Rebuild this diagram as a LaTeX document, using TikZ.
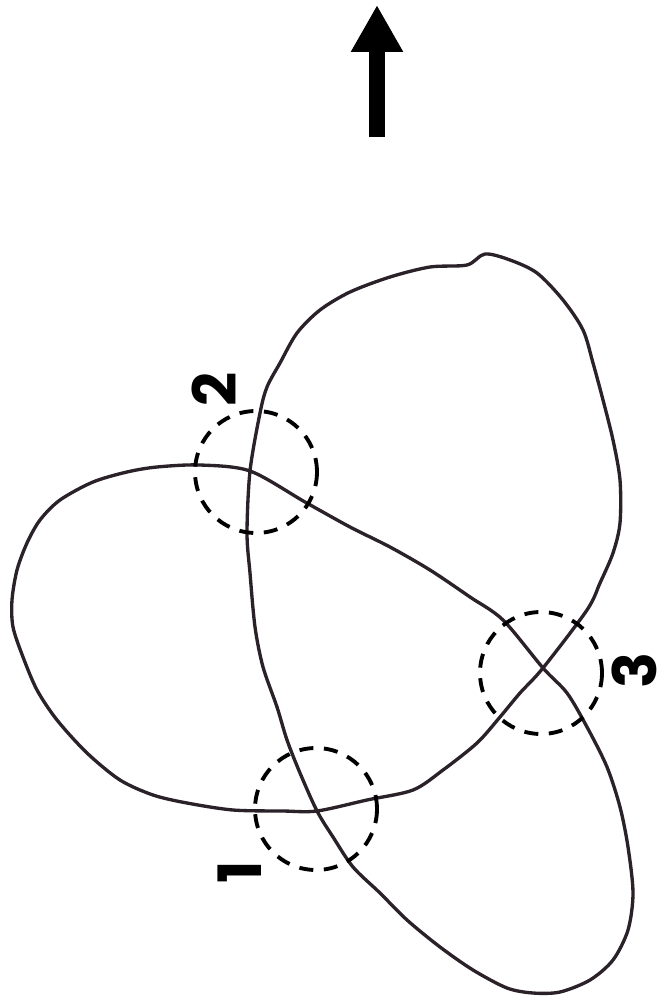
\documentclass[tikz,border=0pt]{standalone}
\usepackage{fontspec}
\usetikzlibrary{arrows.meta}
\newfontfamily\numfont{Poppins}
\definecolor{knotink}{HTML}{2B2129}
\tikzset{
  strand/.style = {draw=knotink, line width=1.9pt, line join=round},
  ring/.style   = {draw, circle, minimum size=2.44cm, line width=2.2pt,
                   dash pattern=on 8pt off 6pt},
  num/.style    = {font=\numfont\bfseries\fontsize{34}{34}\selectfont,
                   rotate=90, inner sep=0pt},
  up/.style     = {-{Triangle[length=9.4mm, width=9.8mm]}, line width=3.2mm}
}

\begin{document}
\begin{tikzpicture}[x=0.02cm, y=-0.02cm]
  \useasboundingbox (0,0) rectangle (662,1003);

  % crossings
  \coordinate (c1) at (317,811);
  \coordinate (c2) at (250,471);
  \coordinate (c3) at (543,668);

  % the knot
  \draw[strand] plot[smooth cycle, tension=0.5] coordinates {
    (c2) (247,533) (250,573) (255,627) (263,667) (277,707) (287,740)
    (300,773) (c1) (333,837) (353,867) (380,893) (407,920) (440,947)
    (473,970) (507,988) (533,993) (560,992) (590,980) (613,960)
    (628,930) (633,893) (628,847) (620,807) (607,767) (587,727)
    (567,693) (c3) (503,620) (470,597) (430,570) (390,547) (350,527)
    (305,502) (c2) (200,465) (157,467) (127,472) (93,482) (60,500)
    (40,520) (27,543) (17,570) (12,600) (13,627) (23,657) (37,690)
    (57,720) (87,753) (120,780) (153,795) (187,803) (233,810) (283,811)
    (c1) (367,800) (413,790) (443,770) (477,743) (500,717) (520,693)
    (c3) (587,610) (600,583) (613,553) (620,523) (620,480) (613,440)
    (603,400) (593,363) (583,330) (563,300) (537,273) (510,260)
    (485,254) (467,265) (430,267) (390,277) (350,292) (320,310)
    (297,333) (280,363) (267,387) (260,413)};

  % marked crossings
  \node[ring] (ring1) at (316,809) {};
  \node[ring] (ring2) at (256,472) {};
  \node[ring] (ring3) at (541,673) {};
  \node[num] (n1) at (240,872) {1};
  \node[num] (n2) at (214,389) {2};
  \node[num] (n3) at (634,670) {3};

  % direction
  \coordinate (tail) at (377,137);
  \coordinate (head) at (377,5);
  \draw[up] (tail) -- (head);
\end{tikzpicture}
\end{document}
